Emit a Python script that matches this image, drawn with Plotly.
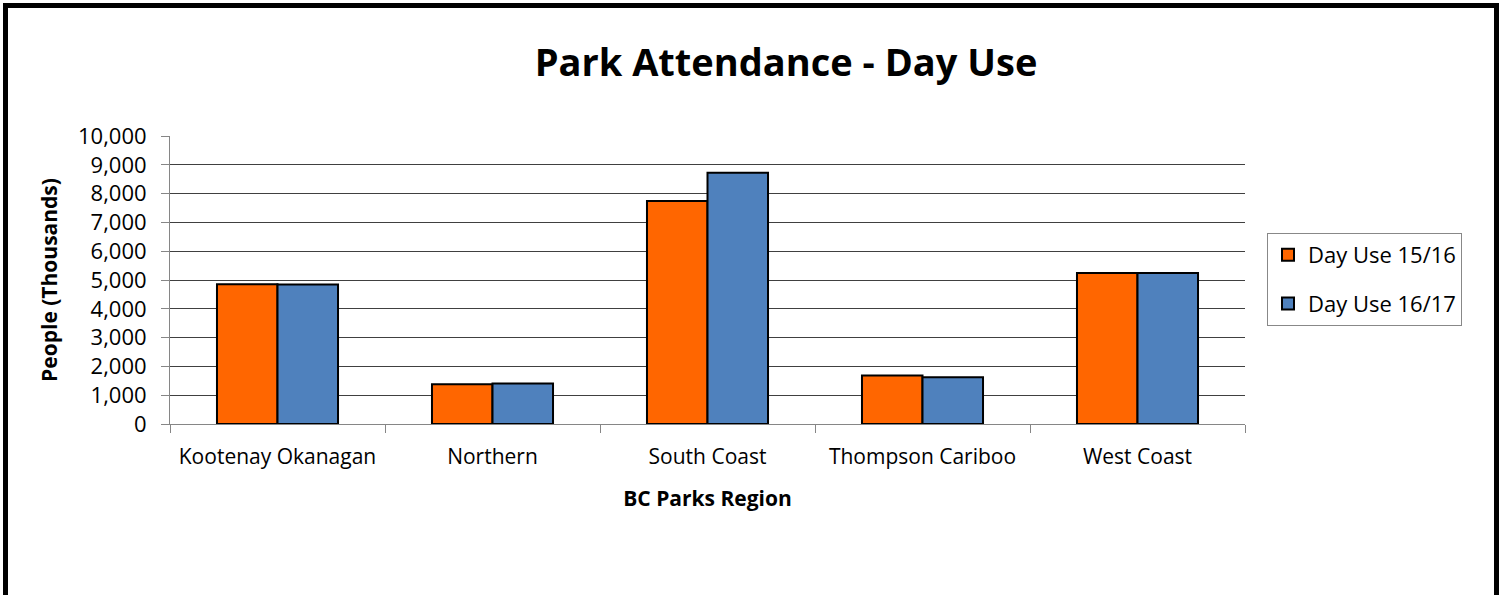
import plotly.graph_objects as go

regions = ["Kootenay Okanagan", "Northern", "South Coast", "Thompson Cariboo", "West Coast"]
day_use_1516 = [4850, 1380, 7740, 1680, 5240]
day_use_1617 = [4840, 1410, 8725, 1620, 5240]
y_ticks = list(range(0, 10001, 1000))
y_tick_labels = [f"{v:,}" for v in y_ticks]

FONT = "Open Sans"
L, R, T, B = 170, 263, 136, 171
W, H = 1508, 595
pw, ph = W - L - R, H - T - B

def px_x(p):
    return (p - L) / pw

def px_y(p):
    return (H - B - p) / ph

fig = go.Figure()
fig.add_trace(go.Bar(name="Day Use 15/16", x=regions, y=day_use_1516, legendgroup="a",
                     marker=dict(color="#FF6600", line=dict(color="black", width=2))))
fig.add_trace(go.Bar(name="Day Use 16/17", x=regions, y=day_use_1617, legendgroup="b",
                     marker=dict(color="#4F81BD", line=dict(color="black", width=2))))

fig.update_layout(
    width=W, height=H,
    margin=dict(l=L, r=R, t=T, b=B, autoexpand=False),
    paper_bgcolor="white", plot_bgcolor="white",
    barmode="group", bargap=0.437, bargroupgap=0,
    font=dict(family=FONT, size=22, color="black"),
    title=dict(text="<b>Park Attendance - Day Use</b>", x=786 / W, xanchor="center",
               y=1 - 63 / H, yanchor="middle", font=dict(family=FONT, size=38)),
    legend=dict(x=px_x(1267), y=px_y(233), xanchor="left", yanchor="top",
                bordercolor="#888888", borderwidth=1, bgcolor="white",
                font=dict(size=22), tracegroupgap=17, itemsizing="constant"),
    showlegend=True,
)

fig.update_xaxes(
    showline=True, linecolor="#868686", linewidth=1,
    ticks="outside", ticklen=8, tickcolor="#868686", tickson="boundaries",
    ticklabelstandoff=14, tickangle=0, tickfont=dict(size=21),
    title=dict(text="<b>BC Parks Region</b>", font=dict(size=21), standoff=22),
    showgrid=False,
)
fig.update_yaxes(
    range=[0, 10000], tickvals=y_ticks, ticktext=y_tick_labels,
    showline=True, linecolor="#868686", linewidth=1,
    ticks="outside", ticklen=8, tickcolor="#868686",
    ticklabelstandoff=10,
    showgrid=True, gridcolor="#404040", gridwidth=1,
    zeroline=False,
    title=dict(text="<b>People (Thousands)</b>", font=dict(size=21), standoff=14),
)

fig.add_shape(type="rect", xref="paper", yref="paper",
              x0=px_x(5.5), x1=px_x(1496.5), y0=px_y(640), y1=px_y(5.5),
              line=dict(color="black", width=5), fillcolor="rgba(0,0,0,0)", layer="above")

fig.write_html("out.html", config={"displayModeBar": False},
               post_script="document.body.style.margin='0';document.body.style.padding='0';")
